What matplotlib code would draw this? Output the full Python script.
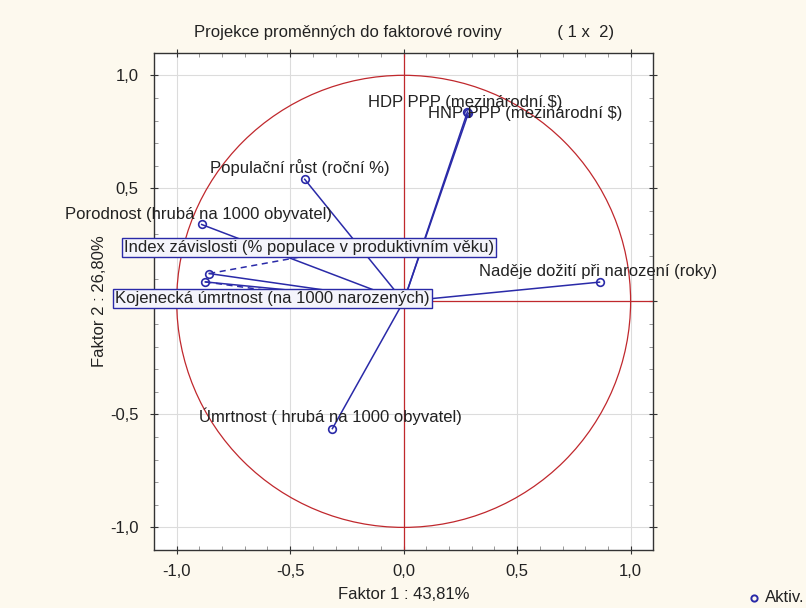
import numpy as np
import matplotlib
matplotlib.use("Agg")
import matplotlib.pyplot as plt
from matplotlib.ticker import MultipleLocator, FuncFormatter
from matplotlib.patches import Circle
from matplotlib.lines import Line2D

plt.rcParams['font.family'] = ['Liberation Sans', 'DejaVu Sans']

# ---- data ----
variables = [
    "HDP PPP (mezinárodní $)",
    "HNP PPP (mezinárodní $)",
    "Populační růst (roční %)",
    "Porodnost (hrubá na 1000 obyvatel)",
    "Index závislosti (% populace v produktivním věku)",
    "Kojenecká úmrtnost (na 1000 narozených)",
    "Naděje dožití při narození (roky)",
    "Úmrtnost ( hrubá na 1000 obyvatel)",
]
factor1 = [0.281, 0.285, -0.436, -0.890, -0.857, -0.874, 0.863, -0.314]
factor2 = [0.838, 0.832, 0.540, 0.340, 0.123, 0.086, 0.085, -0.563]

title = "Projekce proměnných do faktorové roviny            ( 1 x  2)"
xlabel = "Faktor 1 : 43,81%"
ylabel = "Faktor 2 : 26,80%"
legend_label = "Aktiv."

# label layout (left / vertical-centre of text, in data units)
label_pos = [(-0.156, 0.879), (0.109, 0.830), (-0.853, 0.592), (-1.493, 0.385),
             (-1.232, 0.239), (-1.272, 0.012), (0.334, 0.130), (-0.902, -0.508)]
boxed = [False, False, False, False, True, True, False, False]
leader_end = {4: (-0.442, 0.199), 5: (-0.60, 0.048)}

blue = "#2a2aa8"
red = "#c0282d"
txt = "#222222"
FS = 12

fig = plt.figure(figsize=(8.06, 6.08), dpi=100)
fig.patch.set_facecolor("#fdf9ee")
ax = fig.add_axes([154 / 806, 1 - 550 / 608, (653.3 - 154) / 806, (550 - 52.7) / 608])
ax.set_facecolor("white")
ax.set_xlim(-1.1, 1.1)
ax.set_ylim(-1.1, 1.1)

ax.xaxis.set_major_locator(MultipleLocator(0.5))
ax.yaxis.set_major_locator(MultipleLocator(0.5))
ax.xaxis.set_minor_locator(MultipleLocator(0.1))
ax.yaxis.set_minor_locator(MultipleLocator(0.1))
fmt = FuncFormatter(lambda v, p: ("%.1f" % v).replace(".", ",").replace("-0,0", "0,0"))
ax.xaxis.set_major_formatter(fmt)
ax.yaxis.set_major_formatter(fmt)
ax.grid(True, which="major", color="#dcdcdc", linewidth=0.8)
ax.set_axisbelow(True)
ax.tick_params(which="major", direction="inout", length=6, width=0.8, colors="#333333",
               labelcolor=txt, labelsize=FS, top=True, right=True)
ax.tick_params(which="minor", direction="in", length=3, width=0.6, colors="#888888",
               top=True, right=True)
ax.tick_params(axis="x", pad=7)
ax.tick_params(axis="y", pad=8)
for s in ax.spines.values():
    s.set_color("#333333")
    s.set_linewidth(1.0)

# unit circle and axes cross
ax.add_patch(Circle((0, 0), 1.0, fill=False, edgecolor=red, linewidth=0.9, zorder=2))
ax.axhline(0, color=red, linewidth=0.9, zorder=2)
ax.axvline(0, color=red, linewidth=0.9, zorder=2)

# vectors
for x, y in zip(factor1, factor2):
    ax.plot([0, x], [0, y], color=blue, linewidth=1.1, zorder=3)
ax.plot(factor1, factor2, linestyle="none", marker="o", markersize=5.5,
        markerfacecolor="none", markeredgecolor=blue, markeredgewidth=1.2, zorder=4)

# leaders
for i, (ex, ey) in leader_end.items():
    ax.plot([factor1[i], ex], [factor2[i], ey], color=blue, linewidth=1.1,
            linestyle=(0, (4, 3)), zorder=3)

# labels
for i, (name, (lx, ly)) in enumerate(zip(variables, label_pos)):
    kw = {}
    if boxed[i]:
        kw["bbox"] = dict(boxstyle="square,pad=0.12", facecolor="#f4f4fb",
                          edgecolor=blue, linewidth=1.0)
    ax.text(lx, ly, name, fontsize=FS, color=txt, ha="left", va="center",
            clip_on=False, zorder=5, **kw)

ax.set_title(title, fontsize=FS, color=txt, pad=11)
ax.set_xlabel(xlabel, fontsize=FS, color=txt, labelpad=6)
ax.set_ylabel(ylabel, fontsize=FS, color=txt, labelpad=2)

# legend (marker + label at bottom right)
fig.add_artist(Line2D([754 / 806], [1 - 598 / 608], transform=fig.transFigure,
                      linestyle="none", marker="o", markersize=4.5,
                      markerfacecolor="none", markeredgecolor=blue, markeredgewidth=1.4))
fig.text(804 / 806, 1 - 597 / 608, legend_label, color=txt, fontsize=FS, ha="right", va="center")

fig.savefig("out.png", dpi=100, facecolor=fig.get_facecolor())
